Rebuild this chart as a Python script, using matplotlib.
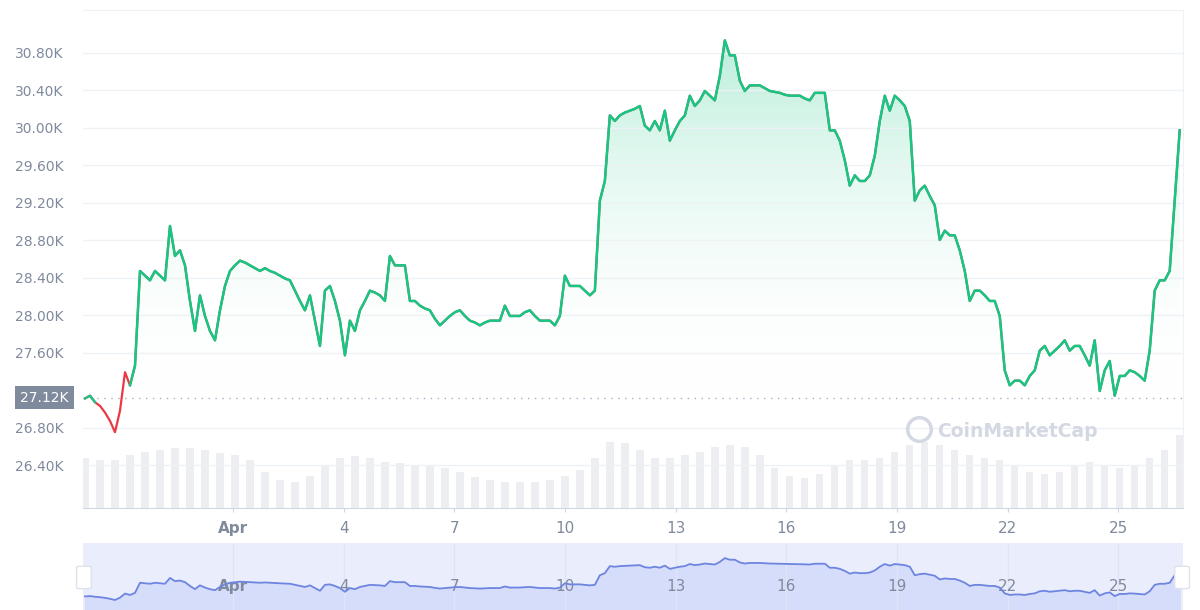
import matplotlib
matplotlib.use("Agg")
import matplotlib.pyplot as plt
import numpy as np
from matplotlib.patches import FancyBboxPatch

# price in thousands USD, sampled every ~3.25 hours starting Mar 28
price = [27.11, 27.14, 27.07, 27.03, 26.96, 26.87, 26.75, 26.98, 27.39, 27.25, 27.46, 28.47, 28.42, 28.37, 28.47, 28.42,
         28.37, 28.95, 28.63, 28.69, 28.53, 28.15, 27.83, 28.21, 27.99, 27.83, 27.73, 28.05, 28.31, 28.47, 28.53, 28.58,
         28.56, 28.53, 28.50, 28.47, 28.50, 28.47, 28.45, 28.42, 28.39, 28.37, 28.26, 28.15, 28.05, 28.21, 27.94, 27.67,
         28.26, 28.31, 28.15, 27.94, 27.57, 27.94, 27.83, 28.05, 28.15, 28.26, 28.24, 28.21, 28.15, 28.63, 28.53, 28.53,
         28.53, 28.15, 28.15, 28.10, 28.07, 28.05, 27.96, 27.89, 27.94, 27.99, 28.03, 28.05, 27.99, 27.94, 27.92, 27.89,
         27.92, 27.94, 27.94, 27.94, 28.10, 27.99, 27.99, 27.99, 28.03, 28.05, 27.99, 27.94, 27.94, 27.94, 27.89, 27.99,
         28.42, 28.31, 28.31, 28.31, 28.26, 28.21, 28.26, 29.22, 29.43, 30.13, 30.07, 30.13, 30.16, 30.18, 30.20, 30.23,
         30.02, 29.97, 30.07, 29.97, 30.18, 29.86, 29.97, 30.07, 30.13, 30.34, 30.23, 30.29, 30.39, 30.34, 30.29, 30.55,
         30.93, 30.77, 30.77, 30.50, 30.39, 30.45, 30.45, 30.45, 30.42, 30.39, 30.38, 30.37, 30.35, 30.34, 30.34, 30.34,
         30.31, 30.29, 30.37, 30.37, 30.37, 29.97, 29.97, 29.86, 29.65, 29.38, 29.49, 29.43, 29.43, 29.49, 29.70, 30.07,
         30.34, 30.18, 30.34, 30.29, 30.23, 30.07, 29.22, 29.33, 29.38, 29.27, 29.17, 28.80, 28.90, 28.85, 28.85, 28.69,
         28.47, 28.15, 28.26, 28.26, 28.21, 28.15, 28.15, 27.99, 27.41, 27.25, 27.30, 27.30, 27.25, 27.35, 27.41, 27.62,
         27.67, 27.57, 27.62, 27.67, 27.73, 27.62, 27.67, 27.67, 27.57, 27.46, 27.73, 27.19, 27.41, 27.51, 27.14, 27.35,
         27.35, 27.41, 27.39, 27.35, 27.30, 27.62, 28.26, 28.37, 28.37, 28.47, 29.22, 29.97]
volume = [50, 48, 48, 53, 56, 58, 60, 60, 58, 55, 53, 48, 36, 28, 26, 32, 43, 50, 52, 50, 46, 45, 43, 42, 40, 36,
          31, 28, 26, 26, 26, 28, 32, 38, 50, 66, 65, 58, 50, 50, 53, 56, 61, 63, 61, 53, 40, 32, 30, 34, 42, 48,
          48, 50, 56, 63, 66, 63, 58, 53, 50, 48, 43, 36, 34, 36, 42, 46, 43, 40, 42, 50, 58, 73]
baseline = 27.12
tick_days = [1, 4, 7, 10, 13, 16, 19, 22, 25]
tick_labels = ["Apr", "4", "7", "10", "13", "16", "19", "22", "25"]
y_ticks = [26.4, 26.8, 27.6, 28.0, 28.4, 28.8, 29.2, 29.6, 30.0, 30.4, 30.8]

GREEN = "#16c784"
RED = "#ea3943"
GRAY = "#808a9d"

# day of April (x)
t = -3.01 + np.arange(len(price)) * 5 / 36.9
tv = -3.01 + np.arange(len(volume)) * 15 / 36.9
p = np.array(price)
xmin, xmax = -3.07, 26.76

fig = plt.figure(figsize=(12, 6.1), dpi=100)
ax = fig.add_axes([0.069, 0.167, 0.917, 0.816])
ax.set_xlim(xmin, xmax)
ax.set_ylim(25.94, 31.25)

# volume bars
axv = ax.twinx()
axv.set_ylim(0, 498)
axv.bar(tv, volume, width=0.2, color="#eceef2", zorder=0)
axv.set_yticks([])
axv.set_zorder(0)
ax.set_zorder(1)
ax.patch.set_visible(False)
for s in axv.spines.values():
    s.set_visible(False)

# gradient fill above baseline
grad = np.linspace(0, 1, 256).reshape(-1, 1)
cmap = matplotlib.colors.LinearSegmentedColormap.from_list("g", [(1, 1, 1, 0), (0.086, 0.78, 0.52, 0.3)])
im = ax.imshow(grad, extent=[xmin, xmax, baseline, 31.0], origin="lower", aspect="auto", cmap=cmap, zorder=1)
poly = ax.fill_between(t, np.maximum(p, baseline), baseline, color="none")
im.set_clip_path(poly.get_paths()[0], transform=ax.transData)

# line colored by baseline
ax.plot(t, p, color=RED, lw=1.6, zorder=3)
ax.plot(t[9:], p[9:], color=GREEN, lw=1.8, zorder=4)
ax.plot(t[:3], p[:3], color=GREEN, lw=1.6, zorder=4)
ax.axhline(baseline, color="#a6b0c3", lw=1, ls=(0, (1, 4)), zorder=2)

ax.set_yticks(y_ticks)
ax.set_yticklabels([f"{v:.2f}K" for v in y_ticks], color=GRAY, fontsize=10)
ax.grid(axis="y", color="#eff2f5", lw=1)
ax.set_xticks(tick_days)
ax.set_xticklabels(tick_labels, color=GRAY, fontsize=11)
ax.get_xticklabels()[0].set_fontweight("bold")
ax.tick_params(axis="y", length=0, pad=14)
ax.tick_params(axis="x", length=3, color="#cfd6e4", pad=6)
for k, s in ax.spines.items():
    s.set_color("#eff2f5")
ax.spines["left"].set_visible(False)
ax.spines["bottom"].set_color("#cfd6e4")

ax.text(-3.45, baseline, "27.12K", color="white", fontsize=10, ha="right", va="center",
        bbox=dict(boxstyle="square,pad=0.35", fc=GRAY, ec="none"), zorder=5, clip_on=False)
ax.text(20.1, 26.76, "CoinMarketCap", color="#d3d8e2", fontsize=13.5, fontweight="bold", va="center", zorder=2)
ax.plot([19.6], [26.78], marker="o", ms=17, mfc="none", mec="#d3d8e2", mew=2.5, zorder=2)

# navigator
axn = fig.add_axes([0.069, 0.0, 0.917, 0.11])
axn.set_xlim(xmin, xmax)
axn.set_ylim(25.75, 32.45)
axn.set_facecolor("#e9edfc")
axn.fill_between(t, p, 25.75, color="#d6ddfa")
axn.plot(t, p, color="#6e85e0", lw=1.3)
axn.set_xticks(tick_days)
axn.set_xticklabels(tick_labels, color=GRAY, fontsize=11)
axn.get_xticklabels()[0].set_fontweight("bold")
axn.tick_params(axis="x", direction="in", pad=-22, length=0)
axn.set_yticks([])
axn.grid(axis="x", color="#dfe4f7", lw=1)
for s in axn.spines.values():
    s.set_visible(False)
for xh in (xmin + 0.03, xmax - 0.03):
    axn.add_patch(FancyBboxPatch((xh - 0.08, 28.0), 0.16, 2.0, boxstyle="round,pad=0.12",
                                 fc="white", ec="#dde2ec", lw=1, clip_on=False, zorder=5))

fig.savefig("out.png", dpi=100)
